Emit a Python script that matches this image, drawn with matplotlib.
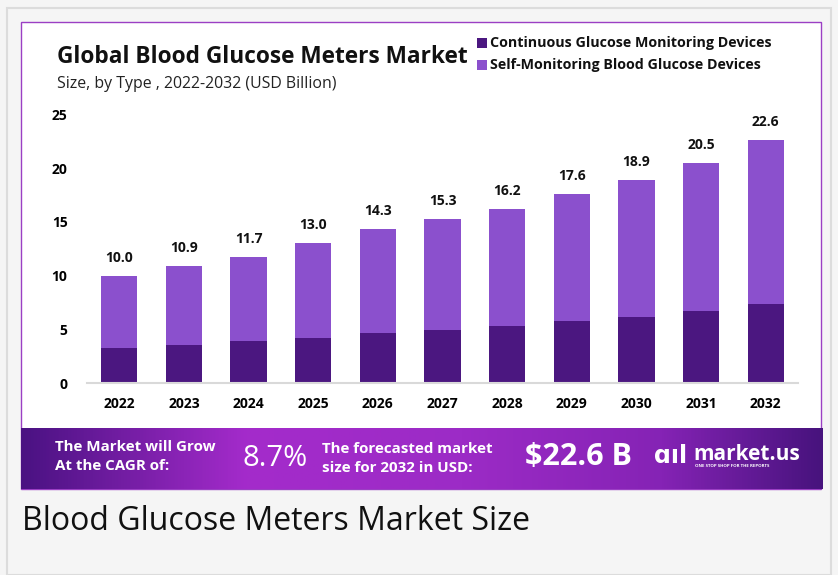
import matplotlib
matplotlib.use("Agg")
import matplotlib.pyplot as plt
import numpy as np
from matplotlib.patches import Rectangle
from matplotlib.colors import LinearSegmentedColormap

years = ["2022", "2023", "2024", "2025", "2026", "2027", "2028", "2029", "2030", "2031", "2032"]
totals = [10.0, 10.9, 11.7, 13.0, 14.3, 15.3, 16.2, 17.6, 18.9, 20.5, 22.6]
cgm = [3.3, 3.6, 3.9, 4.2, 4.7, 5.0, 5.3, 5.8, 6.2, 6.7, 7.4]
smbg = [round(t - c, 1) for t, c in zip(totals, cgm)]
series_names = ["Continuous Glucose Monitoring Devices", "Self-Monitoring Blood Glucose Devices"]
yticks = [0, 5, 10, 15, 20, 25]

DARK = "#4b1780"
LIGHT = "#8b50cd"
W, H = 838, 575

plt.rcParams['font.family'] = ['Open Sans', 'DejaVu Sans']

fig = plt.figure(figsize=(W / 100, H / 100), dpi=100)
fig.patch.set_facecolor("#f5f5f5")


def fx(px):
    return px / W


def fy(py):
    return 1 - py / H


# outer frame
fig.patches.append(Rectangle((fx(7), fy(575)), fx(824), fy(8) - fy(575), transform=fig.transFigure,
                             facecolor="#f5f5f5", edgecolor="#dcdcdc", lw=1.5, zorder=-2))
# white panel with purple border
fig.patches.append(Rectangle((fx(21), fy(489)), fx(800), fy(22) - fy(489), transform=fig.transFigure,
                             facecolor="white", edgecolor="#9b3fc4", lw=1.0, zorder=-1))

# main axes
ax = fig.add_axes([fx(87), fy(383.3), fx(798) - fx(87), fy(114.3) - fy(383.3)])
ax.set_zorder(2)
ax.set_facecolor("none")
x = np.arange(len(years))
ax.bar(x, cgm, width=0.56, color=DARK, label=series_names[0], zorder=2)
ax.bar(x, smbg, bottom=cgm, width=0.56, color=LIGHT, label=series_names[1], zorder=2)
ax.set_xlim(-0.5, 10.5)
ax.set_ylim(0, 25)
ax.set_yticks(yticks)
ax.set_yticklabels([str(v) for v in yticks], fontsize=10, fontweight="bold")
ax.set_xticks(x)
ax.set_xticklabels(years, fontsize=10, fontweight="bold")
ax.tick_params(axis="both", length=0)
ax.tick_params(axis="y", pad=14)
ax.tick_params(axis="x", pad=10)
for s in ["top", "right", "left"]:
    ax.spines[s].set_visible(False)
ax.spines["bottom"].set_color("#d9d9d9")
ax.spines["bottom"].set_linewidth(1.5)
for xi, t in zip(x, totals):
    ax.annotate(f"{t:.1f}", (xi, t), xytext=(0, 8), textcoords="offset points",
                ha="center", va="bottom", fontsize=10, fontweight="bold", color="#111111")

# titles
fig.text(fx(57), fy(57), "Global Blood Glucose Meters Market", fontsize=16.3, fontweight="bold",
         ha="left", va="center", color="#111111")
fig.text(fx(57), fy(84), "Size, by Type , 2022-2032 (USD Billion)", fontsize=11.4,
         ha="left", va="center", color="#222222")

# legend
for i, (name, col) in enumerate(zip(series_names, [DARK, LIGHT])):
    yy = 43 + 22 * i
    fig.patches.append(Rectangle((fx(477), fy(yy + 5)), fx(10), fy(yy - 5) - fy(yy + 5),
                                 transform=fig.transFigure, facecolor=col, edgecolor="none"))
    fig.text(fx(490), fy(yy), name, fontsize=10.3, fontweight="bold", ha="left", va="center",
             color="#111111")

# banner
bax = fig.add_axes([fx(21), fy(489), fx(822) - fx(21), fy(428) - fy(489)])
bax.set_zorder(3)
cmap = LinearSegmentedColormap.from_list("banner", [
    (0.0, "#4a1282"), (0.28, "#a42bcb"), (0.55, "#9c2bc6"), (0.8, "#8523b5"), (1.0, "#47137d")])
grad = np.linspace(0, 1, 512).reshape(1, -1)
bax.imshow(grad, aspect="auto", cmap=cmap, extent=[0, 1, 0, 1])
bax.set_xlim(0, 1)
bax.set_ylim(0, 1)
bax.axis("off")

fig.text(fx(55), fy(447), "The Market will Grow", fontsize=10.9, fontweight="bold", color="white",
         ha="left", va="center", zorder=5)
fig.text(fx(55), fy(466), "At the CAGR of:", fontsize=10.9, fontweight="bold", color="white",
         ha="left", va="center", zorder=5)
fig.text(fx(242), fy(458), "8.7%", fontsize=21, color="white", ha="left", va="center", zorder=5)
fig.text(fx(322), fy(449), "The forecasted market", fontsize=10.9, fontweight="bold", color="white",
         ha="left", va="center", zorder=5)
fig.text(fx(322), fy(468), "size for 2032 in USD:", fontsize=10.9, fontweight="bold", color="white",
         ha="left", va="center", zorder=5)
fig.text(fx(525), fy(457), "$22.6 B", fontsize=22, fontweight="bold", color="white",
         ha="left", va="center", zorder=5)
# logo
fig.text(fx(654), fy(456), "ɑıl", fontsize=17, fontweight="bold", color="white", ha="left", va="center",
         family=["DejaVu Sans"], zorder=5)
fig.text(fx(693), fy(454), "market.us", fontsize=15, fontweight="bold", color="white",
         ha="left", va="center", zorder=5)
fig.text(fx(695), fy(466), "ONE STOP SHOP FOR THE REPORTS", fontsize=3.2, fontweight="bold",
         color="white", ha="left", va="center", zorder=5)

# caption
fig.text(fx(22), fy(521), "Blood Glucose Meters Market Size", fontsize=23, color="#111111",
         ha="left", va="center")

fig.savefig("out.png", dpi=100, facecolor=fig.get_facecolor())
